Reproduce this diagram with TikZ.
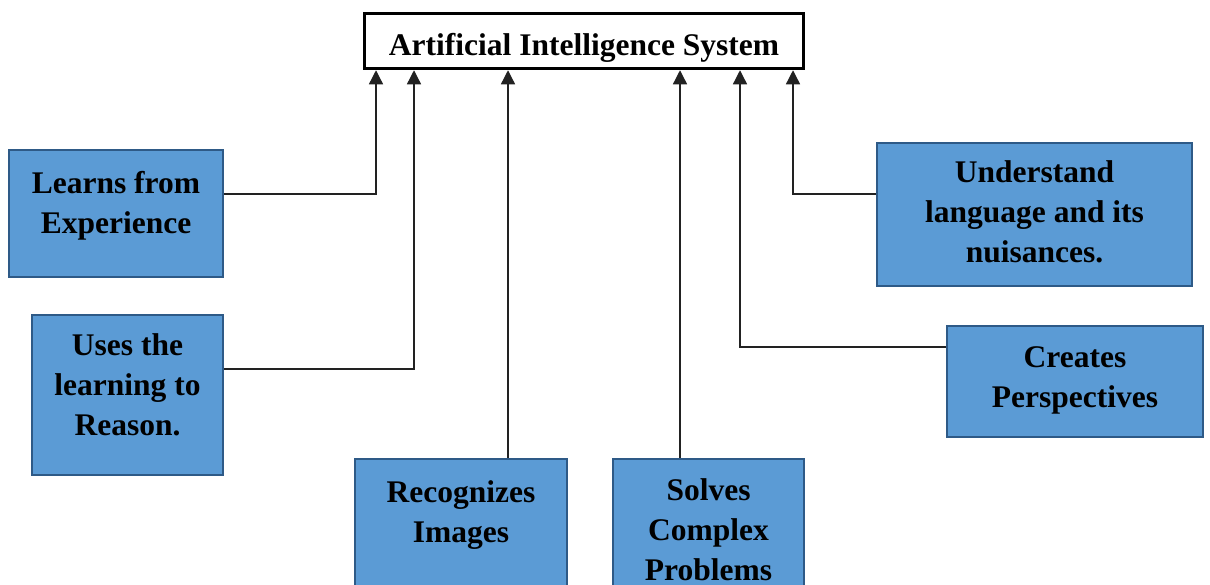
\documentclass[tikz,border=0pt]{standalone}
\usepackage{fontspec}
\setmainfont{Liberation Serif}
\usetikzlibrary{arrows.meta}
\definecolor{boxfill}{HTML}{5B9BD5}
\definecolor{boxline}{HTML}{2E5A87}
\definecolor{wire}{HTML}{222222}
\tikzset{
  bluebox/.style={draw=boxline, line width=2pt, fill=boxfill, inner sep=0pt},
  titlebox/.style={draw=black, line width=3.5pt, fill=white, inner sep=0pt,
    minimum width=439pt, minimum height=55pt},
  % multi-line captions are anchored at the baseline of their last line
  caption/.style={anchor=base, align=center, inner sep=0pt,
    font=\fontsize{31.5}{40}\selectfont\bfseries},
  feed/.style={draw=wire, line width=1.3pt, -{Triangle[width=14pt,length=14pt]}}
}
\begin{document}
\begin{tikzpicture}[x=1pt,y=-1pt]
  \useasboundingbox (0,0) rectangle (1210,584);

  % central system box
  \node[titlebox] (title) at (584,41) {};
  \node[caption] (titletext) at (584,55) {Artificial Intelligence System};

  % capability boxes
  \node[bluebox, minimum width=214pt, minimum height=127pt] (learns) at (116,213.5) {};
  \node[caption] (learnstext) at (116,233) {Learns from\\Experience};

  \node[bluebox, minimum width=191pt, minimum height=160pt] (uses) at (127.5,395) {};
  \node[caption] (usestext) at (127.5,435) {Uses the\\learning to\\Reason.};

  \node[bluebox, minimum width=212pt, minimum height=140pt] (recog) at (461,529) {};
  \node[caption] (recogtext) at (461,542) {Recognizes\\Images};

  \node[bluebox, minimum width=191pt, minimum height=140pt] (solves) at (708.5,529) {};
  \node[caption] (solvestext) at (708.5,580) {Solves\\Complex\\Problems};

  \node[bluebox, minimum width=315pt, minimum height=143pt] (under) at (1034.5,214.5) {};
  \node[caption] (undertext) at (1034.5,262) {Understand\\language and its\\nuisances.};

  \node[bluebox, minimum width=256pt, minimum height=111pt] (creates) at (1075,381.5) {};
  \node[caption] (createstext) at (1075,407) {Creates\\Perspectives};

  % connectors into the system box
  \draw[feed] ([yshift=19.5pt]learns.east) -| ([xshift=-208pt]title.south);
  \draw[feed] ([yshift=26pt]uses.east) -| ([xshift=-170pt]title.south);
  \draw[feed] ([xshift=47pt]recog.north) -- ([xshift=-76pt]title.south);
  \draw[feed] ([xshift=-28.5pt]solves.north) -- ([xshift=96pt]title.south);
  \draw[feed] ([yshift=34.5pt]creates.west) -| ([xshift=156pt]title.south);
  \draw[feed] ([yshift=20.5pt]under.west) -| ([xshift=209pt]title.south);
\end{tikzpicture}
\end{document}
